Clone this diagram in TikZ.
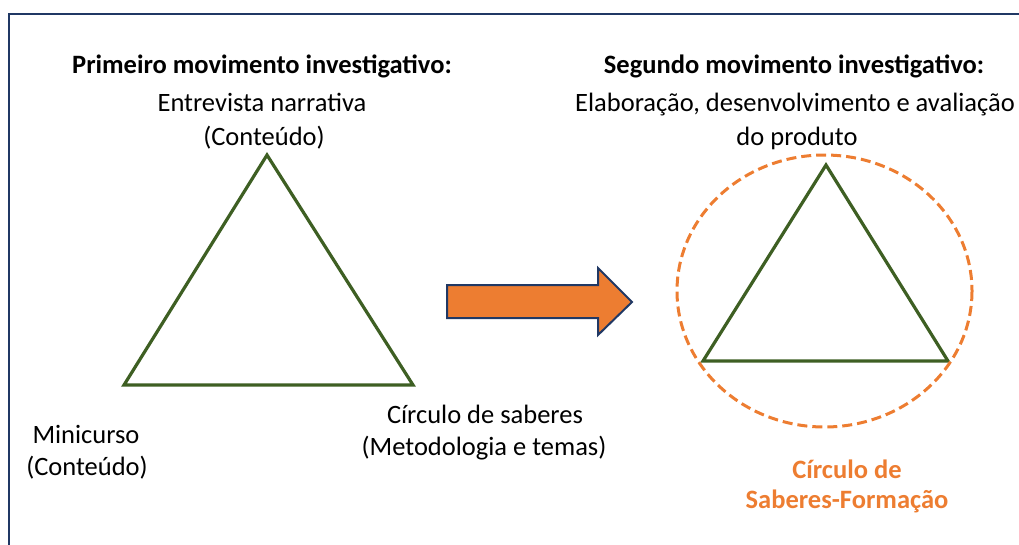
\documentclass[tikz,border=0pt]{standalone}
\usepackage{fontspec}
\setmainfont{Carlito}
\definecolor{navy}{HTML}{203864}
\definecolor{tgreen}{HTML}{3E5F23}
\definecolor{torange}{HTML}{ED7D31}
\tikzset{
  lbl/.style={anchor=base, inner sep=0pt, font=\fontsize{26.5}{31}\selectfont},
  ttl/.style={lbl, font=\fontsize{26.5}{31}\selectfont\bfseries},
  olbl/.style={ttl, text=torange},
  tri/.style={draw=tgreen, line width=3.2pt, line join=miter},
}
\begin{document}
\begin{tikzpicture}[x=1pt,y=-1pt]
\useasboundingbox (0,0) rectangle (1019,544);
\clip (0,0) rectangle (1019,544);
\draw[navy, line width=2pt] (9,14) rectangle (1030,560);

% left block
\node[ttl] (t1) at (262,73) {Primeiro movimento investigativo:};
\node[lbl] (e1) at (262,111) {Entrevista narrativa};
\node[lbl] (c1) at (264,145) {(Conteúdo)};
\node[lbl] (m1) at (86,443) {Minicurso};
\node[lbl] (m2) at (87,475) {(Conteúdo)};
\node[lbl] (s1) at (485,423) {Círculo de saberes};
\node[lbl] (s2) at (484,455) {(Metodologia e temas)};

\coordinate (LA) at (267,155);
\coordinate (LB) at (124,385);
\coordinate (LC) at (413,385);
\draw[tri] (LA) -- (LB) -- (LC) -- cycle;

% arrow
\coordinate (a1) at (447,285);
\coordinate (a2) at (598,285);
\coordinate (a3) at (598,268);
\coordinate (a4) at (632,302);
\coordinate (a5) at (598,335);
\coordinate (a6) at (598,318);
\coordinate (a7) at (447,318);
\filldraw[fill=torange, draw=navy, line width=2pt, line join=miter] (a1) -- (a2) -- (a3) -- (a4) -- (a5) -- (a6) -- (a7) -- cycle;

% right block
\node[ttl] (t2) at (794,73) {Segundo movimento investigativo:};
\node[lbl, anchor=base west] (e2) at (575,111) {Elaboração, desenvolvimento e avaliação};
\node[lbl] (d2) at (797,145) {do produto};

\coordinate (RA) at (826,165);
\coordinate (RB) at (703,361);
\coordinate (RC) at (948,361);
\draw[tri] (RA) -- (RB) -- (RC) -- cycle;
\draw[torange, line width=3pt, dash pattern=on 10pt off 5pt] (824.5,291) ellipse [x radius=147.5, y radius=136];

\node[olbl] (o1) at (847,478) {Círculo de};
\node[olbl] (o2) at (847,508) {Saberes-Formação};
\end{tikzpicture}
\end{document}
